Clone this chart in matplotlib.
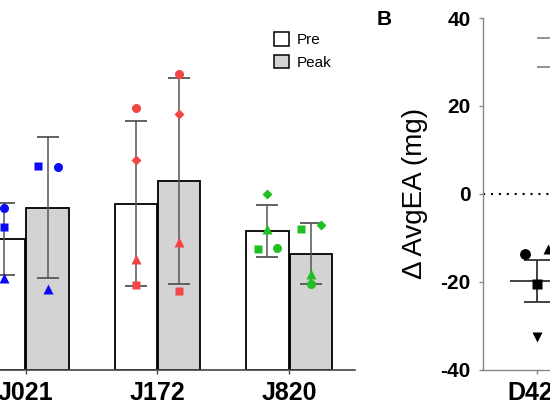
import numpy as np
import matplotlib.pyplot as plt
from matplotlib.patches import Patch

plt.rcParams['font.family'] = ['Liberation Sans', 'DejaVu Sans']

# panel A data (bars = mean +/- SD, points = individual animals)
groups = ['J021', 'J172', 'J820']
group_colors = ['#0a0af5', '#f24646', '#1fc01f']
shapes = ['o', 's', '^', 'D']

pre_mean = [37.2, 47.2, 39.5]
pre_sd = [10.2, 23.5, 7.4]
peak_mean = [46.0, 53.5, 33.0]
peak_sd = [20.1, 29.3, 8.7]

# values per animal: circle, square, triangle, diamond
pre_pts = [[46.0, 40.6, 26.1, np.nan],
           [74.3, 23.9, 31.3, 59.6],
           [34.6, 34.3, 40.0, 49.9]]
peak_pts = [[57.7, 58.0, 23.0, np.nan],
            [84.1, 22.2, 36.2, 72.7],
            [24.3, 40.1, 27.3, 41.1]]
pre_dx = [[0, 0, 0, 0], [0, 0, 0, 0], [0.075, -0.075, 0, 0]]
peak_dx = [[0.076, -0.076, 0, 0], [0, 0, 0, 0], [0, -0.075, 0, 0.075]]

# panel B data
b_label = 'D420'
b_shapes = ['o', '^', 's', 'v']
b_pts = [-13.7, -12.5, -20.5, -32.7]
b_dx = [-0.111, 0.102, 0, 0]
b_mean = -19.9
b_sem = 4.75
b_top_lines = [35.5, 28.9]

fig = plt.figure(figsize=(5.5, 4.12), dpi=100)

# ---- panel A (cropped on the left) ----
axA = fig.add_axes([-40 / 550, 42.5 / 412, 395 / 550, 351.5 / 412])
x = np.arange(len(groups))
off, w = 0.165, 0.32
axA.bar(x - off, pre_mean, w, color='white', edgecolor='black', linewidth=1.3, zorder=1)
axA.bar(x + off, peak_mean, w, color='#d3d3d3', edgecolor='black', linewidth=1.3, zorder=1)
axA.errorbar(x - off, pre_mean, yerr=pre_sd, fmt='none', ecolor='#555555',
             elinewidth=1.1, capsize=8, capthick=1.3, zorder=2)
axA.errorbar(x + off, peak_mean, yerr=peak_sd, fmt='none', ecolor='#555555',
             elinewidth=1.1, capsize=8, capthick=1.3, zorder=2)
for i in range(len(groups)):
    for j, m in enumerate(shapes):
        ms = 4.8 if m == 'D' else 6.5
        if m == 's':
            ms = 6.0
        axA.plot(x[i] - off + pre_dx[i][j], pre_pts[i][j], m, color=group_colors[i],
                 ms=ms, mec='none', zorder=3)
        axA.plot(x[i] + off + peak_dx[i][j], peak_pts[i][j], m, color=group_colors[i],
                 ms=ms, mec='none', zorder=3)

axA.set_xlim(-0.5, 2.5)
axA.set_ylim(0, 100)
axA.set_xticks(x)
axA.set_xticklabels(groups, fontsize=18, fontweight='bold')
axA.tick_params(axis='x', length=3, width=1, pad=5, color='#444444')
axA.set_yticks([])
for s in ['top', 'right', 'left']:
    axA.spines[s].set_visible(False)
axA.spines['bottom'].set_color('#444444')
axA.spines['bottom'].set_linewidth(1.2)

handles = [Patch(facecolor='white', edgecolor='black', linewidth=1.1, label='Pre'),
           Patch(facecolor='#d3d3d3', edgecolor='black', linewidth=1.1, label='Peak')]
axA.legend(handles=handles, loc='upper left', bbox_to_anchor=(274 / 550, 1 - 32 / 412),
           bbox_transform=fig.transFigure, frameon=False, fontsize=11,
           handlelength=1.0, handleheight=1.0, handletextpad=0.5,
           labelspacing=0.5, borderpad=0, borderaxespad=0)

# ---- panel B (cropped on the right) ----
axB = fig.add_axes([483 / 550, 42.5 / 412, 324 / 550, 351.5 / 412])
axB.axhline(0, color='black', linewidth=1.5, linestyle=(0, (1, 2.8)))
for yv in b_top_lines:
    axB.hlines(yv, 0, 0.5, color='#888888', linewidth=1.3)
axB.hlines(b_mean, -0.25, 0.25, color='#333333', linewidth=1.3)
axB.errorbar([0], [b_mean], yerr=[b_sem], fmt='none', ecolor='#333333',
             elinewidth=1.3, capsize=9.5, capthick=1.3)
for m, v, dx in zip(b_shapes, b_pts, b_dx):
    axB.plot(dx, v, m, color='black', ms=7.8, mec='none', zorder=3)

axB.set_xlim(-0.5, 2.5)
axB.set_ylim(-40, 40)
axB.set_yticks([-40, -20, 0, 20, 40])
axB.set_yticklabels(['-40', '-20', '0', '20', '40'], fontsize=15, fontweight='bold')
axB.set_xticks([0])
axB.set_xticklabels([b_label], fontsize=18, fontweight='bold')
axB.tick_params(axis='both', length=3, width=1, color='#888888')
axB.tick_params(axis='y', pad=6)
axB.tick_params(axis='x', pad=5)
for s in ['top', 'right']:
    axB.spines[s].set_visible(False)
for s in ['left', 'bottom']:
    axB.spines[s].set_color('#888888')
    axB.spines[s].set_linewidth(1.0)
axB.set_ylabel('Δ AvgEA (mg)', fontsize=20)
axB.yaxis.set_label_coords(-0.17, 0.5)

fig.text(377 / 550, 1 - 25 / 412, 'B', fontsize=15, fontweight='bold', va='baseline')

fig.savefig('out.png', dpi=100)
